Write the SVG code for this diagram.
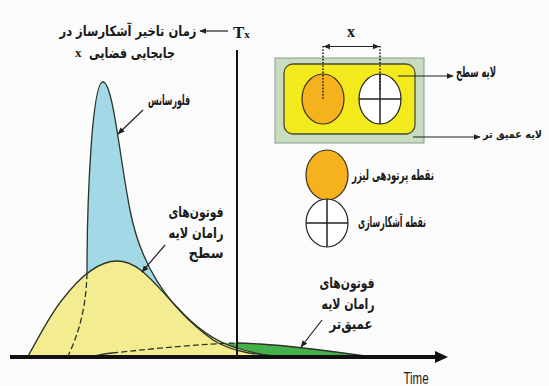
<svg xmlns="http://www.w3.org/2000/svg" width="549" height="386" viewBox="0 0 549 386">
<defs>
<marker id="ah" viewBox="0 0 10 10" refX="9" refY="5" markerWidth="6" markerHeight="6" orient="auto-start-reverse"><path d="M0,1 L10,5 L0,9 Z" fill="#222"/></marker>
<style>
.fa{font-family:"DejaVu Sans",sans-serif;font-weight:bold;font-size:15px;fill:#1a1a1a;text-anchor:middle;dominant-baseline:central}
.curve{stroke:#2a3528;stroke-width:1.3;fill:none}
.conn{stroke:#222;stroke-width:1.2;fill:none}
.dot{stroke:#222;stroke-width:1.6;stroke-dasharray:1.6 1.6;fill:none}
.ser{font-family:"Liberation Serif",serif;font-weight:bold;fill:#1a1a1a}
</style>
</defs>
<rect width="549" height="386" fill="#fbfbfb"/>

<g id="curves">
<path id="deep-raman" d="M92,357 C98,355 104,354 112,353 C160,348 200,344 237,343 C250,343 255,344 260,344 C295,346 330,351 372,357 Z" fill="#45b04a"/>
<path id="fluorescence" d="M68,356 C76,335 86,305 87,273 C87,200 92,82 103,82 C113,82 120,160 130,210 C140,262 165,305 213,340 C232,352 255,355 290,357 Z" fill="#a3d8e6"/>
<path id="surface-raman" d="M28,356 C40,335 50,315 62,300 C75,283 95,261 117,261 C140,261 155,285 177,307 C195,327 215,342 237,348 C250,352 262,355 276,357 Z" fill="#f3ec90"/>
<path class="curve" d="M87,273 C87,200 92,82 103,82 C113,82 120,160 130,210 C140,262 165,305 213,340 C232,352 255,355 290,357"/>
<path class="curve" d="M28,356 C40,335 50,315 62,300 C75,283 95,261 117,261 C140,261 155,285 177,307 C195,327 215,342 237,348 C250,352 262,355 276,357"/>
<path class="curve" d="M237,343 C250,343 255,344 260,344 C295,346 330,351 372,357"/>
<path class="curve" stroke-dasharray="6 3" d="M87,273 C86,310 78,335 68,356"/>
<path class="curve" d="M92,357 C98,355 104,354 112,353"/>
<path class="curve" stroke-dasharray="6 3" d="M112,353 C160,348 200,344 237,343"/>
</g>

<g id="axes">
<line x1="10" y1="357" x2="438" y2="357" stroke="#111" stroke-width="4"/>
<polygon points="435,351 448,357 435,363" fill="#111"/>
<line x1="237" y1="50" x2="237" y2="357" stroke="#111" stroke-width="2"/>
<text x="416" y="384" font-family="Liberation Sans Narrow,Liberation Sans,sans-serif" font-size="16" fill="#1a1a1a" text-anchor="middle" transform="translate(416 384) scale(0.72 1) translate(-416 -384)">Time</text>
</g>

<g id="tx-label">
<text class="ser" x="233" y="38" font-size="17">T<tspan font-size="11">x</tspan></text>
<line class="conn" x1="228" y1="31" x2="200" y2="31" marker-end="url(#ah)"/>
<text class="fa" x="128" y="31" style="font-size:14px" textLength="137" lengthAdjust="spacingAndGlyphs">زمان تاخیر آشکارساز در</text>
<text class="fa" x="132" y="53" textLength="86" lengthAdjust="spacingAndGlyphs">جابجایی فضایی</text>
<text class="ser" x="75" y="57" font-size="13">x</text>
</g>

<g id="label-fluorescence">
<text class="fa" x="169" y="100" textLength="42" lengthAdjust="spacingAndGlyphs">فلورسانس</text>
<line class="conn" x1="143" y1="110" x2="118" y2="134" marker-end="url(#ah)"/>
</g>

<g id="label-surface">
<text class="fa" x="196" y="212" textLength="55" lengthAdjust="spacingAndGlyphs">فوتون‌های</text>
<text class="fa" x="196" y="233" textLength="55" lengthAdjust="spacingAndGlyphs">رامان لایه</text>
<text class="fa" x="206" y="253" textLength="35" lengthAdjust="spacingAndGlyphs">سطح</text>
<line class="conn" x1="165" y1="245" x2="142" y2="272" marker-end="url(#ah)"/>
</g>

<g id="label-deep">
<text class="fa" x="347" y="283" textLength="55" lengthAdjust="spacingAndGlyphs">فوتون‌های</text>
<text class="fa" x="348" y="304" textLength="53" lengthAdjust="spacingAndGlyphs">رامان لایه</text>
<text class="fa" x="351" y="324" textLength="43" lengthAdjust="spacingAndGlyphs">عمیق‌تر</text>
<line class="conn" x1="322" y1="320" x2="301" y2="347" marker-end="url(#ah)"/>
</g>

<g id="sample">
<rect x="275" y="58" width="149" height="85" fill="#c8dcc0" stroke="#8a9a90" stroke-width="1"/>
<rect x="284" y="64" width="131" height="70" rx="9" fill="#f2ea1c" stroke="#4a4a3a" stroke-width="1.3"/>
<ellipse cx="323" cy="99" rx="21" ry="25" fill="#f5b21c" stroke="#3a3020" stroke-width="1.2"/>
<ellipse cx="380" cy="99" rx="21" ry="25" fill="#ffffff" stroke="#222" stroke-width="1.2"/>
<line x1="359" y1="99" x2="401" y2="99" stroke="#222" stroke-width="1.5"/>
<line x1="380" y1="74" x2="380" y2="124" stroke="#222" stroke-width="1.5"/>
</g>

<g id="distance">
<line class="dot" x1="323" y1="46" x2="323" y2="99"/>
<line class="dot" x1="380" y1="46" x2="380" y2="90"/>
<line class="conn" x1="324" y1="46.5" x2="379" y2="46.5" marker-start="url(#ah)" marker-end="url(#ah)"/>
<text class="ser" x="351" y="37" font-size="16" text-anchor="middle">x</text>
</g>

<g id="label-layers">
<line class="conn" x1="398" y1="76" x2="453" y2="76" marker-end="url(#ah)"/>
<text class="fa" x="476" y="72" textLength="40" lengthAdjust="spacingAndGlyphs">لایه سطح</text>
<line class="conn" x1="413" y1="137" x2="480" y2="137" marker-end="url(#ah)"/>
<text class="fa" x="542" y="134" style="text-anchor:end;font-size:11px" textLength="59" lengthAdjust="spacingAndGlyphs">لایه عمیق تر</text>
</g>

<g id="legend">
<ellipse cx="327" cy="175" rx="21" ry="25" fill="#f5b21c" stroke="#3a3020" stroke-width="1.2"/>
<text class="fa" x="393" y="175" textLength="82" lengthAdjust="spacingAndGlyphs">نقطه پرتودهی لیزر</text>
<ellipse cx="327" cy="223" rx="21" ry="24" fill="#ffffff" stroke="#222" stroke-width="1.2"/>
<line x1="306" y1="223" x2="348" y2="223" stroke="#222" stroke-width="1.5"/>
<line x1="327" y1="199" x2="327" y2="247" stroke="#222" stroke-width="1.5"/>
<text class="fa" x="392" y="222" textLength="68" lengthAdjust="spacingAndGlyphs">نقطه آشکارسازی</text>
</g>
</svg>
